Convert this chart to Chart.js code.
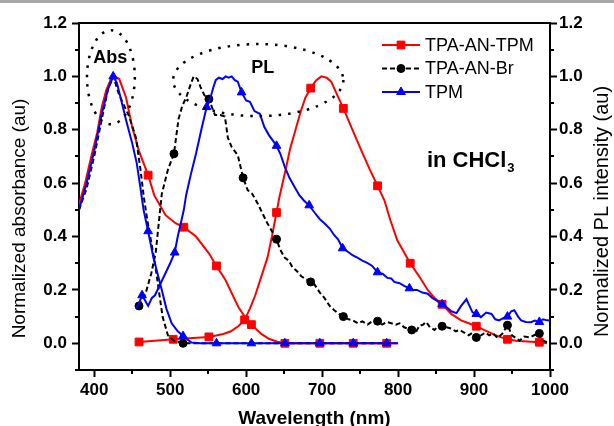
<!DOCTYPE html>
<html>
<head>
<meta charset="utf-8">
<script src="https://cdn.jsdelivr.net/npm/chart.js"></script>
<style>
html, body { margin: 0; padding: 0; background: #fff; }
canvas { display: block; }
</style>
</head>
<body>
<canvas id="chart" width="614" height="426"></canvas>
<script>
var FONT = '"Liberation Sans", Arial, Helvetica, sans-serif';

// tick labels
var x_ticks = [400, 500, 600, 700, 800, 900, 1000];
var x_minor = [450, 550, 650, 750, 850, 950];
var y_ticks = [0, 0.2, 0.4, 0.6, 0.8, 1.0, 1.2];
var y_minor = [-0.1, 0.1, 0.3, 0.5, 0.7, 0.9, 1.1];

var legend_names = ["TPA-AN-TPM", "TPA-AN-Br", "TPM"];

// TPA-AN-TPM (red)
var red_abs = [[380,0.52],[388,0.60],[397,0.71],[404,0.79],[410,0.885],[416,0.95],[422,0.99],[427,1.0],[433,0.99],
    [442,0.92],[450,0.81],[459,0.72],[471,0.63],[479,0.555],[485,0.525],[494,0.48],[507,0.45],[518,0.435],
    [534,0.40],[551,0.337],[561,0.29],[573,0.236],[584,0.17],[590,0.135],[598,0.10],[607,0.07],[620,0.035],
    [630,0.017],[641,0.006],[651,0.0],[700,0.0],[750,0.0],[800,0.0]];
var red_pl = [[459,0.005],[480,0.01],[504,0.015],[530,0.02],[551,0.024],[570,0.035],[580,0.045],[590,0.065],
    [598,0.088],[605,0.13],[612,0.18],[620,0.25],[628,0.32],[634,0.40],[640,0.49],[644,0.55],[652,0.65],
    [658,0.73],[664,0.79],[672,0.87],[678,0.92],[685,0.956],[692,0.985],[699,1.0],[706,0.995],[712,0.98],
    [720,0.93],[728,0.88],[740,0.80],[752,0.72],[763,0.65],[773,0.59],[782,0.536],[790,0.46],[799,0.386],
    [808,0.34],[816,0.30],[828,0.25],[839,0.20],[848,0.17],[858,0.146],[870,0.11],[883,0.086],[893,0.075],
    [903,0.064],[913,0.05],[923,0.037],[933,0.025],[944,0.015],[955,0.01],[965,0.008],[975,0.006],
    [986,0.004],[996,0.0]];
var red_marks = [[471,0.63],[518,0.435],[561,0.29],[607,0.07],[651,0.0],[697,0.0],[741,0.0],[785,0.0],
    [459,0.005],[504,0.015],[551,0.024],[598,0.088],[640,0.49],[685,0.956],[728,0.88],[773,0.59],[816,0.30],
    [858,0.146],[903,0.064],[944,0.015],[986,0.004]];

// TPA-AN-Br (black, dashed)
var black_abs = [[380,0.50],[390,0.58],[400,0.70],[410,0.84],[418,0.95],[425,1.0],[433,0.93],[446,0.85],
    [455,0.77],[461,0.65],[465,0.555],[470,0.46],[475,0.38],[480,0.30],[485,0.20],[490,0.10],[497,0.03],
    [505,0.01],[517,0.0],[600,0.0],[700,0.0],[790,0.0]];
var black_pl = [[459,0.14],[463,0.16],[468,0.19],[475,0.26],[481,0.34],[485,0.45],[489,0.56],[497,0.65],
    [505,0.71],[511,0.84],[516,0.89],[521,0.92],[527,0.97],[531,1.0],[536,0.99],[540,0.96],[545,0.93],
    [551,0.915],[559,0.855],[566,0.855],[572,0.85],[576,0.77],[581,0.735],[589,0.705],[596,0.62],[602,0.574],
    [608,0.56],[615,0.525],[621,0.49],[628,0.45],[634,0.42],[640,0.39],[645,0.35],[651,0.32],[656,0.31],
    [661,0.285],[667,0.27],[673,0.25],[679,0.24],[685,0.23],[690,0.22],[697,0.19],[703,0.17],[710,0.14],
    [716,0.124],[722,0.11],[728,0.10],[735,0.09],[741,0.085],[747,0.075],[753,0.082],[760,0.07],[767,0.085],
    [773,0.083],[779,0.07],[785,0.08],[791,0.075],[797,0.07],[802,0.075],[808,0.06],[813,0.055],[818,0.05],
    [823,0.04],[828,0.065],[833,0.07],[837,0.08],[842,0.06],[848,0.05],[853,0.065],[858,0.064],[864,0.06],
    [870,0.055],[876,0.045],[881,0.05],[887,0.04],[893,0.03],[898,0.04],[903,0.022],[909,0.03],[915,0.04],
    [920,0.03],[925,0.037],[931,0.02],[937,0.035],[944,0.068],[950,0.03],[955,0.02],[960,0.01],[966,0.025],
    [973,0.022],[979,0.03],[986,0.037],[991,0.01],[996,0.004]];
var black_marks = [[517,0.0],[459,0.14],[505,0.71],[551,0.915],[596,0.62],[640,0.39],[685,0.23],[728,0.10],
    [773,0.083],[818,0.05],[858,0.064],[903,0.022],[944,0.068],[986,0.037]];

// TPM (blue)
var blue_abs = [[380,0.50],[390,0.60],[400,0.72],[410,0.86],[418,0.95],[425,1.0],[430,0.975],[442,0.836],
    [450,0.75],[456,0.675],[461,0.58],[465,0.50],[471,0.42],[478,0.32],[489,0.20],[495,0.13],[502,0.075],
    [510,0.045],[517,0.027],[528,0.003],[540,0.0],[600,0.0],[700,0.0],[800,0.0]];
var blue_pl = [[455,0.13],[459,0.15],[463,0.18],[467,0.16],[471,0.14],[476,0.17],[480,0.18],[485,0.21],
    [490,0.24],[495,0.27],[500,0.30],[506,0.34],[510,0.40],[514,0.45],[518,0.50],[521,0.555],[527,0.63],
    [534,0.71],[541,0.80],[548,0.885],[553,0.92],[557,0.96],[560,0.986],[564,0.995],[569,0.99],[573,1.0],
    [577,0.995],[581,1.0],[585,0.986],[589,0.98],[594,0.94],[600,0.91],[605,0.905],[611,0.87],[618,0.86],
    [624,0.81],[630,0.78],[635,0.76],[640,0.74],[645,0.71],[651,0.66],[657,0.62],[664,0.585],[670,0.555],
    [676,0.535],[683,0.517],[690,0.49],[697,0.465],[703,0.45],[710,0.43],[716,0.405],[721,0.39],[727,0.356],
    [733,0.345],[740,0.33],[747,0.32],[753,0.31],[760,0.30],[766,0.29],[773,0.266],[780,0.26],[786,0.245],
    [791,0.243],[795,0.23],[802,0.225],[808,0.215],[815,0.206],[820,0.20],[825,0.20],[832,0.19],[839,0.186],
    [845,0.17],[851,0.16],[858,0.146],[864,0.135],[870,0.12],[877,0.113],[883,0.14],[890,0.165],[894,0.14],
    [898,0.116],[903,0.11],[909,0.098],[916,0.115],[923,0.11],[928,0.09],[933,0.086],[939,0.095],[944,0.10],
    [949,0.12],[953,0.124],[958,0.10],[962,0.086],[968,0.08],[975,0.079],[980,0.085],[986,0.08],[991,0.09],
    [996,0.086],[1000,0.085]];
var blue_marks = [[425,1.0],[471,0.42],[517,0.027],[561,0.0],[607,0.0],[651,0.0],[697,0.0],[741,0.0],[785,0.0],
    [463,0.18],[506,0.34],[548,0.885],[594,0.94],[640,0.74],[683,0.517],[727,0.356],[773,0.266],[815,0.206],
    [858,0.146],[903,0.11],[944,0.10],[986,0.08]];

function pts(list){
    return list.map(function(p){ return {x: p[0], y: p[1]}; });
}

function line_set(list, color, dash){
    return {data: pts(list), borderColor: color, borderWidth: 2, borderDash: dash || [],
        pointRadius: 0, fill: false, tension: 0};
}

function mark_set(list, color, style, r){
    return {data: pts(list), showLine: false, pointStyle: style, pointRadius: r,
        pointBackgroundColor: color, pointBorderColor: color, pointBorderWidth: 1};
}

var STYLES = [
    {color: "#ff0000", dash: [], point: "rect", r: 5.5},
    {color: "#000000", dash: [5, 3], point: "circle", r: 4},
    {color: "#0000ff", dash: [], point: "triangle", r: 5}
];

function axis(pos, size, pad){
    return {
        position: pos,
        grid: {drawOnChartArea: false, tickLength: 7, tickWidth: 2, tickColor: "#000"},
        border: {color: "#000", width: 2},
        ticks: {color: "#000", font: {family: FONT, size: 17, weight: "bold"}, padding: pad, maxRotation: 0},
        afterFit: function(s){
            if (s.isHorizontal()) s.height = size; else s.width = size;
        }
    };
}

function y_axis(pos, size, pad){
    let a = axis(pos, size, pad);
    a.min = -0.1;
    a.max = 1.2;
    a.display = true;
    a.afterBuildTicks = function(s){ s.ticks = y_ticks.map(function(v){ return {value: v}; }); };
    a.ticks.callback = function(v){ return v.toFixed(1); };
    return a;
}

var x_axis = axis("bottom", 56, 3);
x_axis.type = "linear";
x_axis.min = 380;
x_axis.max = 1000;
x_axis.afterBuildTicks = function(s){ s.ticks = x_ticks.map(function(v){ return {value: v}; }); };
x_axis.ticks.callback = function(v){ return String(v); };
x_axis.title = {display: true, text: "Wavelength (nm)", color: "#000", padding: 0,
    font: {family: FONT, size: 19, weight: "bold", lineHeight: 0.8}};

function ellipse(ctx, sx, sy, cx, cy, rx, ry){
    let px = sx.getPixelForValue(cx), py = sy.getPixelForValue(cy);
    ctx.beginPath();
    ctx.ellipse(px, py, sx.getPixelForValue(cx + rx) - px, py - sy.getPixelForValue(cy + ry), 0, 0, Math.PI * 2);
    ctx.stroke();
}

var decor = {
    id: "decor",
    beforeDraw: function(chart){
        let ctx = chart.ctx;
        ctx.save();
        ctx.fillStyle = "#a8a8a8";
        ctx.fillRect(0, 0, chart.width, 3);
        ctx.restore();
    },
    afterDatasetsDraw: function(chart){
        let ctx = chart.ctx, sx = chart.scales.x, sy = chart.scales.y;
        ctx.save();
        // dotted rings
        ctx.strokeStyle = "#000";
        ctx.lineWidth = 2.5;
        ctx.setLineDash([2.5, 7]);
        ellipse(ctx, sx, sy, 422, 0.997, 31.5, 0.176);
        ellipse(ctx, sx, sy, 616, 0.986, 112, 0.135);
        ctx.setLineDash([]);

        ctx.fillStyle = "#000";
        ctx.textAlign = "center";
        ctx.textBaseline = "middle";
        ctx.font = "bold 18px " + FONT;
        ctx.fillText("Abs", sx.getPixelForValue(421), sy.getPixelForValue(1.069));
        ctx.fillText("PL", sx.getPixelForValue(622), sy.getPixelForValue(1.033));

        ctx.textAlign = "left";
        ctx.textBaseline = "alphabetic";
        ctx.font = "bold 22px " + FONT;
        let tx = sx.getPixelForValue(838), ty = sy.getPixelForValue(0.66);
        ctx.fillText("in CHCl", tx, ty);
        let w = ctx.measureText("in CHCl").width;
        ctx.font = "bold 13px " + FONT;
        ctx.fillText("3", tx + w + 1, ty + 5);

        // legend
        let lx = chart.chartArea.right - 168, ly = chart.chartArea.top + 22;
        ctx.font = "18px " + FONT;
        ctx.textBaseline = "middle";
        for (let i = 0; i < legend_names.length; i++){
            let st = STYLES[i], y = ly + i * 23.5;
            ctx.strokeStyle = st.color;
            ctx.fillStyle = st.color;
            ctx.lineWidth = 2;
            ctx.setLineDash(st.dash);
            ctx.beginPath();
            ctx.moveTo(lx, y);
            ctx.lineTo(lx + 38, y);
            ctx.stroke();
            ctx.setLineDash([]);
            ctx.lineWidth = 1;
            Chart.helpers.drawPoint(ctx, {pointStyle: st.point, radius: st.r, borderWidth: 1, rotation: 0}, lx + 19, y);
            ctx.fillStyle = "#000";
            ctx.fillText(legend_names[i], lx + 43, y + 1);
        }
        ctx.restore();
    },
    afterDraw: function(chart){
        let ctx = chart.ctx, a = chart.chartArea;
        let sx = chart.scales.x, sy = chart.scales.y;
        ctx.save();
        ctx.strokeStyle = "#000";
        ctx.lineWidth = 2;
        ctx.beginPath();
        ctx.moveTo(a.left - 1, a.top);
        ctx.lineTo(a.right + 1, a.top);
        for (let v of y_minor){
            let p = Math.round(sy.getPixelForValue(v));
            ctx.moveTo(a.left - 4, p);
            ctx.lineTo(a.left, p);
            ctx.moveTo(a.right, p);
            ctx.lineTo(a.right + 4, p);
        }
        for (let v of x_minor){
            let p = Math.round(sx.getPixelForValue(v));
            ctx.moveTo(p, a.bottom);
            ctx.lineTo(p, a.bottom + 4);
        }
        ctx.stroke();

        // y titles
        let mid = (a.top + a.bottom) / 2;
        ctx.fillStyle = "#000";
        ctx.textAlign = "center";
        ctx.textBaseline = "middle";
        ctx.font = "19px " + FONT;
        ctx.translate(20, mid + 22);
        ctx.rotate(-Math.PI / 2);
        ctx.fillText("Normalized absorbance (au)", 0, 0);
        ctx.setTransform(1, 0, 0, 1, 0, 0);
        ctx.font = "20px " + FONT;
        ctx.translate(602, mid + 15);
        ctx.rotate(-Math.PI / 2);
        ctx.fillText("Normalized PL intensity (au)", 0, 0);
        ctx.restore();
    }
};

var config = {
    type: "line",
    data: {
        datasets: [
            mark_set(blue_marks, STYLES[2].color, STYLES[2].point, STYLES[2].r),
            line_set(blue_pl, STYLES[2].color),
            line_set(blue_abs, STYLES[2].color),
            mark_set(black_marks, STYLES[1].color, STYLES[1].point, STYLES[1].r),
            line_set(black_pl, STYLES[1].color, STYLES[1].dash),
            line_set(black_abs, STYLES[1].color, STYLES[1].dash),
            mark_set(red_marks, STYLES[0].color, STYLES[0].point, STYLES[0].r),
            line_set(red_pl, STYLES[0].color),
            line_set(red_abs, STYLES[0].color)
        ]
    },
    options: {
        responsive: false,
        animation: false,
        events: [],
        layout: {padding: {top: 23, left: 0, right: 0, bottom: 0}},
        plugins: {legend: {display: false}, tooltip: {enabled: false}},
        scales: {
            x: x_axis,
            y: y_axis("left", 79, 5),
            y2: y_axis("right", 64, 2)
        }
    },
    plugins: [decor]
};

var chart = new Chart(document.getElementById("chart"), config);
</script>
</body>
</html>
